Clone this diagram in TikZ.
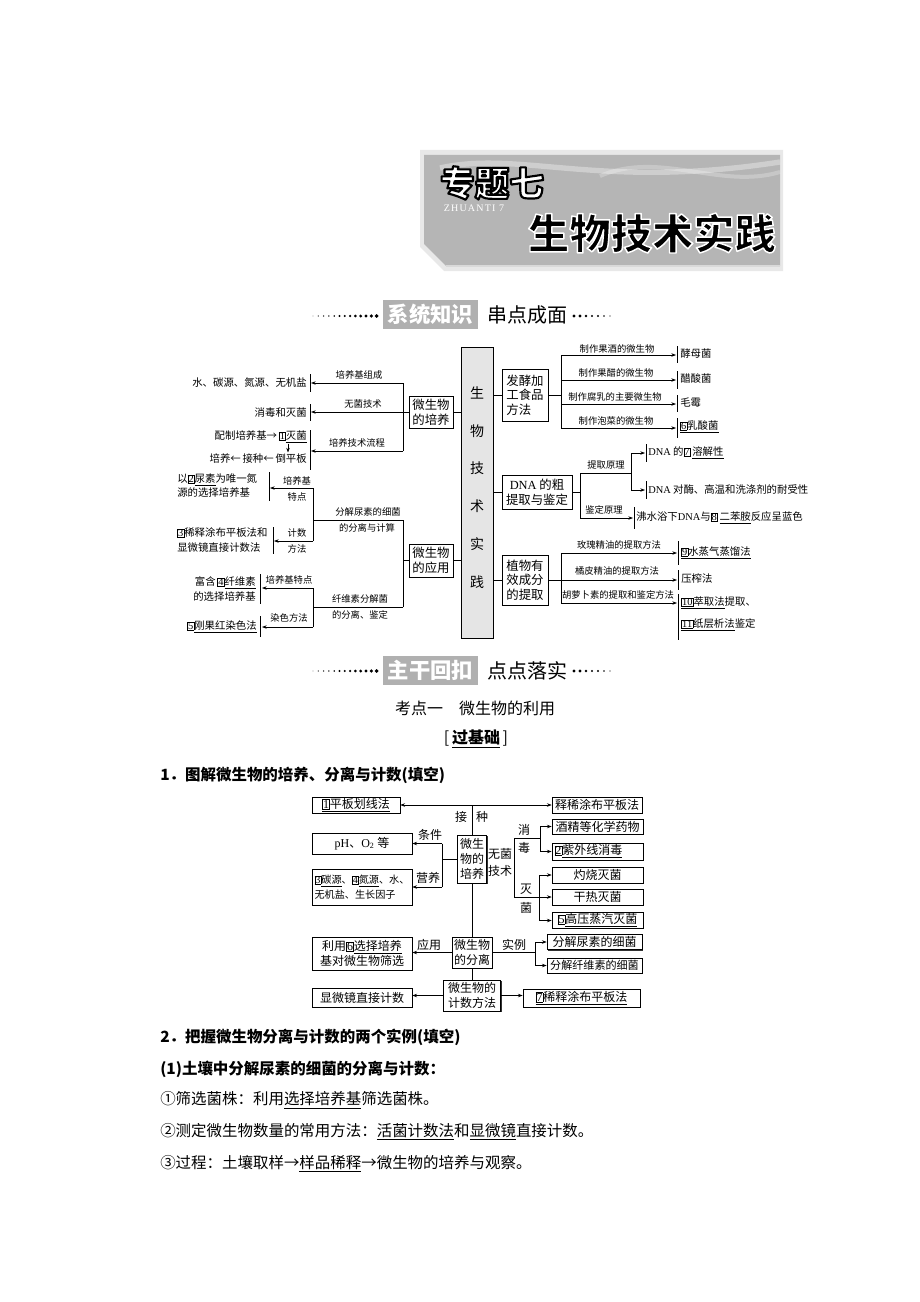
\documentclass[tikz,border=0pt]{standalone}
\usepackage{fontspec}
\setmainfont{Liberation Serif}
\newfontfamily\cjk{Noto Sans CJK SC}
\newfontfamily\lat{Liberation Serif}
\usetikzlibrary{arrows.meta,shadows}
\newcommand\bn[1]{{\setlength\fboxsep{0.3pt}\setlength\fboxrule{0.4pt}\fbox{\lat #1}}}
\newcommand\ul[1]{\underline{#1}}
\newcommand\strokedtext[3]{\special{pdf:literal direct #1 RG #2 w 1 j 2 Tr}#3\special{pdf:literal direct 0 Tr}}
\tikzset{
 every node/.style={inner sep=0pt},
 tx/.style={font=\cjk\fontsize{7.8pt}{10.6pt}\selectfont},
 lb/.style={font=\cjk\fontsize{7pt}{8pt}\selectfont},
 ub/.style={draw, line width=0.5pt, font=\cjk\fontsize{9.3pt}{11pt}\selectfont, align=center},
 ln/.style={line width=0.5pt},
 ar/.style={line width=0.5pt, -{Stealth[length=3.5pt,width=2.6pt]}},
 bar/.style={line width=0.6pt},
 lbx/.style={draw, fill=white, line width=0.5pt, drop shadow={shadow xshift=0.8pt, shadow yshift=-0.8pt, fill=black, opacity=0.8}, font=\cjk\fontsize{9pt}{11.3pt}\selectfont, align=center},
 ll/.style={font=\cjk\fontsize{9pt}{11pt}\selectfont},
 body/.style={anchor=west, font=\cjk\fontsize{11.6pt}{14pt}\selectfont},
 head/.style={anchor=west, font=\cjk\bfseries\fontsize{11.6pt}{14pt}\selectfont},
 secbox/.style={fill=gray!62, minimum width=71.25pt, minimum height=21.75pt, text=white, font=\cjk\bfseries\fontsize{16pt}{18pt}\selectfont},
 sectext/.style={anchor=west, font=\cjk\fontsize{15pt}{17pt}\selectfont},
}
\begin{document}
\begin{tikzpicture}[x=0.75pt,y=-0.75pt]
\useasboundingbox (0,0) rectangle (920,1302);
\fill[white] (0,0) rectangle (920,1302);

% ---------- banner ----------
\fill[gray!18] (420,150) -- (783,150) -- (783,271) -- (444,271) -- (420,247) -- cycle;
\fill[gray!58] (424,155) -- (780,155) -- (780,266) -- (446,266) -- (424,244) -- cycle;
\draw[white, opacity=0.35, line width=4pt] (440,168) .. controls (520,150) and (600,190) .. (780,162);
\draw[white, opacity=0.25, line width=3pt] (600,176) .. controls (660,150) and (720,190) .. (780,172);
\draw[gray!30, line width=1pt] (446,266) -- (780,266);
\node[font=\cjk\bfseries\fontsize{26pt}{28pt}\selectfont, text=white] (zt) at (492,183) {\strokedtext{0 0 0}{1.6}{专题七}};
\node[font=\lat\fontsize{7.5pt}{8pt}\selectfont\addfontfeature{LetterSpace=12}, text=white] (zh) at (474,208) {ZHUANTI 7};
\node[font=\cjk\bfseries\fontsize{31pt}{33pt}\selectfont, text=black] (sw) at (652,233) {\strokedtext{1 1 1}{1.1}{生物技术实践}};

% ---------- section header 1 ----------
\foreach \i in {0,...,12} \fill ({313+\i*5.3},316) circle[radius={0.35pt+\i*0.09pt}];
\foreach \i in {0,...,6} \fill ({574+\i*6},316) circle[radius={1.3pt-\i*0.13pt}];
\node[secbox] (s1) at (430.5,314.5) {系统知识};
\node[sectext] (s1t) at (487,315) {串点成面};

% ---------- upper diagram ----------
\node[draw, line width=0.5pt, fill=gray!20, minimum width=24pt, minimum height=218pt] (c) at (477,492.5) {};
\node[font=\cjk\fontsize{10.5pt}{28.4pt}\selectfont, align=center] (ct) at (477,487.5) {生\\物\\技\\术\\实\\践};
\node[ub, minimum width=33pt, minimum height=24pt] (A) at (431,412) {微生物\\的培养};
\node[ub, minimum width=33pt, minimum height=24.75pt] (B) at (431,560.5) {微生物\\的应用};
\node[ub, minimum width=34.5pt, minimum height=39pt, align=left] (R1) at (525,395) {发酵加\\工食品\\方法};
\node[ub, minimum width=52.5pt, minimum height=25.5pt] (R2) at (537,492) {{\lat DNA} 的粗\\提取与鉴定};
\node[ub, minimum width=34.5pt, minimum height=37.5pt] (R3) at (525,580) {植物有\\效成分\\的提取};
\draw[ln] (A.east) -- (A.east -| c.west);
\draw[ln] (B.east) -- (B.east -| c.west);
\draw[ln] (c.east |- R1.west) -- (R1.west);
\draw[ln] (c.east |- R2.west) -- (R2.west);
\draw[ln] (c.east |- R3.west) -- (R3.west);

% left of A
\draw[ln] (403,383) -- (403,451);
\draw[ar] (403,383) -- (311,383);
\draw[ar] (A.west) -- (311,412);
\draw[ar] (403,451) -- (311,451);
\draw[bar] (310.5,374) -- (310.5,392);
\draw[bar] (310.5,404) -- (310.5,421);
\draw[bar] (310.5,430) -- (310.5,470);
\node[lb] at (359,375) {培养基组成};
\node[lb] at (363,404) {无菌技术};
\node[lb] at (357,443) {培养技术流程};
\node[tx, anchor=east] at (307,383) {水、碳源、氮源、无机盐};
\node[tx, anchor=east] at (307,413) {消毒和灭菌};
\node[tx, anchor=east] (p1) at (307,437) {配制培养基→\,\bn{1}\ul{灭菌}};
\node[tx, anchor=east] (p2) at (307,459) {培养←\,接种←\,倒平板};
\draw[ar] (288,443.5) -- (288,452.5);

% left of B
\draw[ln] (B.west) -- (403,560.5);
\draw[ln] (403,520) -- (403,607);
\draw[ln] (403,520) -- (313,520);
\draw[ln] (403,607) -- (313,607);
\node[lb] at (368,512) {分解尿素的细菌};
\node[lb] at (367,528) {的分离与计算};
\node[lb] at (360,599) {纤维素分解菌};
\node[lb] at (360,615) {的分离、鉴定};
\draw[ln] (313,488) -- (313,541);
\draw[ar] (313,488) -- (270,488);
\draw[ar] (313,541) -- (274,541);
\draw[bar] (269.5,472) -- (269.5,501);
\draw[bar] (273.5,527) -- (273.5,554);
\node[lb] at (297,481) {培养基};
\node[lb] at (297,497) {特点};
\node[lb] at (297,533) {计数};
\node[lb] at (297,549) {方法};
\node[tx, anchor=west, align=left] at (177,486) {以\bn{2}\ul{尿素}为唯一氮\\源的选择培养基};
\node[tx, anchor=west, align=left] at (177,540) {\bn{3}稀释涂布平板法和\\显微镜直接计数法};
\draw[ln] (313,588) -- (313,627);
\draw[ar] (313,588) -- (262,588);
\draw[ar] (313,627) -- (262,627);
\draw[bar] (260.5,574) -- (260.5,604);
\draw[bar] (260.5,616) -- (260.5,637);
\node[lb] at (289,580) {培养基特点};
\node[lb] at (289,618) {染色方法};
\node[tx, anchor=east, align=right] at (256,589) {富含\,\bn{4}\ul{纤维素}\\的选择培养基};
\node[tx, anchor=east] at (257,627) {\bn{5}\ul{刚果红染色法}};

% right of R1
\draw[ln] (R1.east) -- (561,395);
\draw[ln] (561,355) -- (561,428);
\foreach \yy in {355,380,404,428} \draw[ar] (561,\yy) -- (676,\yy);
\draw[bar] (677,346) -- (677,363);
\draw[bar] (677,371) -- (677,389);
\draw[bar] (677,395) -- (677,412);
\draw[bar] (677,418) -- (677,438);
\node[lb] at (617,349) {制作果酒的微生物};
\node[lb] at (616,373) {制作果醋的微生物};
\node[lb] at (615,397) {制作腐乳的主要微生物};
\node[lb] at (616,421) {制作泡菜的微生物};
\node[tx, anchor=west] at (680,354) {酵母菌};
\node[tx, anchor=west] at (680,379) {醋酸菌};
\node[tx, anchor=west] at (680,403) {毛霉};
\node[tx, anchor=west] at (680,427) {\ul{\bn{6}乳酸菌}};

% right of R2
\draw[ln] (R2.east) -- (580,492);
\draw[ln] (580,473) -- (580,518);
\draw[ln] (580,473) -- (631,473);
\draw[ln] (631,453) -- (631,490);
\draw[ar] (631,453) -- (645,453);
\draw[ar] (631,490) -- (645,490);
\draw[bar] (646,444) -- (646,462);
\draw[bar] (646,481) -- (646,499);
\node[lb] at (606,465) {提取原理};
\node[tx, anchor=west] at (648,453) {{\lat DNA} 的\bn{7}\,\ul{溶解性}};
\node[tx, anchor=west] at (648,490) {{\lat DNA} 对酶、高温和洗涤剂的耐受性};
\draw[ar] (580,518) -- (633,518);
\draw[bar] (634,507) -- (634,529);
\node[lb] at (604,510) {鉴定原理};
\node[tx, anchor=west] at (636,518) {沸水浴下{\lat DNA}与\bn{8}\,\ul{二苯胺}反应呈蓝色};

% right of R3
\draw[ar] (R3.east) -- (677,580);
\draw[ln] (561,553) -- (561,603);
\draw[ar] (561,553) -- (677,553);
\draw[ar] (561,603) -- (677,603);
\draw[bar] (678,541) -- (678,565);
\draw[bar] (678,570) -- (678,590);
\draw[bar] (678,594) -- (678,640);
\node[lb] at (619,545) {玫瑰精油的提取方法};
\node[lb] at (617,571) {橘皮精油的提取方法};
\node[lb] at (618,595) {胡萝卜素的提取和鉴定方法};
\node[tx, anchor=west] at (681,553) {\ul{\bn{9}水蒸气蒸馏法}};
\node[tx, anchor=west] at (681,579) {压榨法};
\node[tx, anchor=west] at (681,603) {\ul{\bn{10}萃取法}提取、};
\node[tx, anchor=west] at (681,625) {\ul{\bn{11}纸层析法}鉴定};

% ---------- section header 2 ----------
\foreach \i in {0,...,12} \fill ({313+\i*5.3},671) circle[radius={0.35pt+\i*0.09pt}];
\foreach \i in {0,...,6} \fill ({574+\i*6},671) circle[radius={1.3pt-\i*0.13pt}];
\node[secbox] (s2) at (430.5,670.5) {主干回扣};
\node[sectext] (s2t) at (487,671) {点点落实};
\node[font=\cjk\fontsize{12pt}{14pt}\selectfont] (kd) at (475,708) {考点一\quad 微生物的利用};
\node[font=\cjk\fontsize{12pt}{14pt}\selectfont] (gj) at (476,739) {[\,{\bfseries\underline{过基础}}\,]};

\node[head] (h1) at (160,775) {1．图解微生物的培养、分离与计数(填空)};

% ---------- lower diagram ----------
\node[lbx, minimum width=66pt, minimum height=12pt] (L1) at (356,805) {\ul{\bn{1}平板划线法}};
\node[lbx, minimum width=67.5pt, minimum height=12pt] (L2) at (597,805) {释稀涂布平板法};
\node[lbx, minimum width=22pt, minimum height=36pt] (LC) at (472,859) {微生\\物的\\培养};
\node[lbx, minimum width=75pt, minimum height=15.75pt] (L3) at (362,843.5) {{\lat pH}、{\lat O\textsubscript{2}} 等};
\node[lbx, minimum width=75pt, minimum height=27pt, align=left, font=\cjk\fontsize{7.6pt}{11pt}\selectfont] (L4) at (362,887) {\bn{3}\ul{碳源}、\bn{4}\ul{氮源}、水、\\无机盐、生长因子};
\node[lbx, minimum width=68.25pt, minimum height=11.5pt] (L5) at (597.5,826.5) {酒精等化学药物};
\node[lbx, text width=64.5pt, inner xsep=1.9pt, minimum height=12.75pt, align=left] (L6) at (597.5,851.5) {\bn{2}\ul{紫外线消毒}};
\node[lbx, minimum width=68.25pt, minimum height=12pt] (L7) at (597.5,875) {灼烧灭菌};
\node[lbx, minimum width=68.25pt, minimum height=12pt] (L8) at (597.5,897) {干热灭菌};
\node[lbx, minimum width=68.25pt, minimum height=11.75pt] (L9) at (597.5,920.5) {\bn{5}\ul{高压蒸汽灭菌}};
\node[lbx, minimum width=30pt, minimum height=23.25pt] (LS) at (472,952.5) {微生物\\的分离};
\node[lbx, minimum width=75pt, minimum height=24.75pt] (L10) at (362,953.5) {利用\bn{6}\ul{选择培养}\\基对微生物筛选};
\node[lbx, minimum width=71.25pt, minimum height=11.25pt] (L11) at (594.5,942) {分解尿素的细菌};
\node[lbx, minimum width=71.25pt, minimum height=11.25pt, font=\cjk\fontsize{8.3pt}{10pt}\selectfont] (L12) at (594.5,965.5) {分解纤维素的细菌};
\node[lbx, minimum width=42.75pt, minimum height=23.25pt] (LN) at (472,995.5) {微生物的\\计数方法};
\node[lbx, minimum width=75pt, minimum height=14.25pt] (L13) at (362,997.5) {显微镜直接计数};
\node[lbx, minimum width=87.75pt, minimum height=13.5pt] (L14) at (581.5,998) {\ul{\bn{7}稀释涂布平板法}};

\coordinate (jz) at (472,805);
\draw[ar] (jz) -- (L1.east);
\draw[ar] (jz) -- (L2.west);
\draw[ln] (jz) -- (LC.north);
\node[ll] at (461,817) {接};
\node[ll] at (482,817) {种};
\coordinate (tj) at (442,859);
\draw[ln] (LC.west) -- (tj);
\draw[ln] (442,843.5) -- (442,887);
\draw[ar] (442,843.5) -- (L3.east);
\draw[ar] (442,887) -- (L4.east);
\node[ll] at (430,835) {条件};
\node[ll] at (428,878) {营养};
\node[ll] at (500,854) {无菌};
\node[ll] at (500,871) {技术};
\draw[ln] (514,838) -- (514,897);
\draw[ln] (514,838) -- (540,838);
\draw[ln] (540,826.5) -- (540,851.5);
\draw[ar] (540,826.5) -- (L5.west);
\draw[ar] (540,851.5) -- (L6.west);
\node[ll] at (524,830) {消};
\node[ll] at (524,848) {毒};
\draw[ar] (514,897) -- (L8.west);
\draw[ln] (539,875) -- (539,920.5);
\draw[ar] (539,875) -- (L7.west);
\draw[ar] (539,920.5) -- (L9.west);
\node[ll] at (526,889) {灭};
\node[ll] at (526,908) {菌};
\draw[ln] (LC.south) -- (LS.north);
\draw[ar] (LS.west) -- (LS.west -| L10.east);
\node[ll] at (429,945) {应用};
\coordinate (sl) at (535,952.5);
\draw[ln] (LS.east) -- (sl);
\draw[ln] (535,942) -- (535,965.5);
\draw[ar] (535,942) -- (L11.west);
\draw[ar] (535,965.5) -- (L12.west);
\node[ll] at (514,945) {实例};
\draw[ln] (LS.south) -- (LN.north);
\draw[ar] (LN.west) -- (LN.west -| L13.east);
\draw[ar] (LN.east) -- (LN.east -| L14.west);

% ---------- text ----------
\node[head] (h2) at (160,1037) {2．把握微生物分离与计数的两个实例(填空)};
\node[head] (h3) at (160,1069) {(1)土壤中分解尿素的细菌的分离与计数：};
\node[body] (b1) at (160,1100) {①筛选菌株：利用\underline{选择培养基}筛选菌株。};
\node[body] (b2) at (160,1132) {②测定微生物数量的常用方法：\underline{活菌计数法}和\underline{显微镜}直接计数。};
\node[body] (b3) at (160,1164) {③过程：土壤取样→\underline{样品稀释}→微生物的培养与观察。};
\end{tikzpicture}
\end{document}
